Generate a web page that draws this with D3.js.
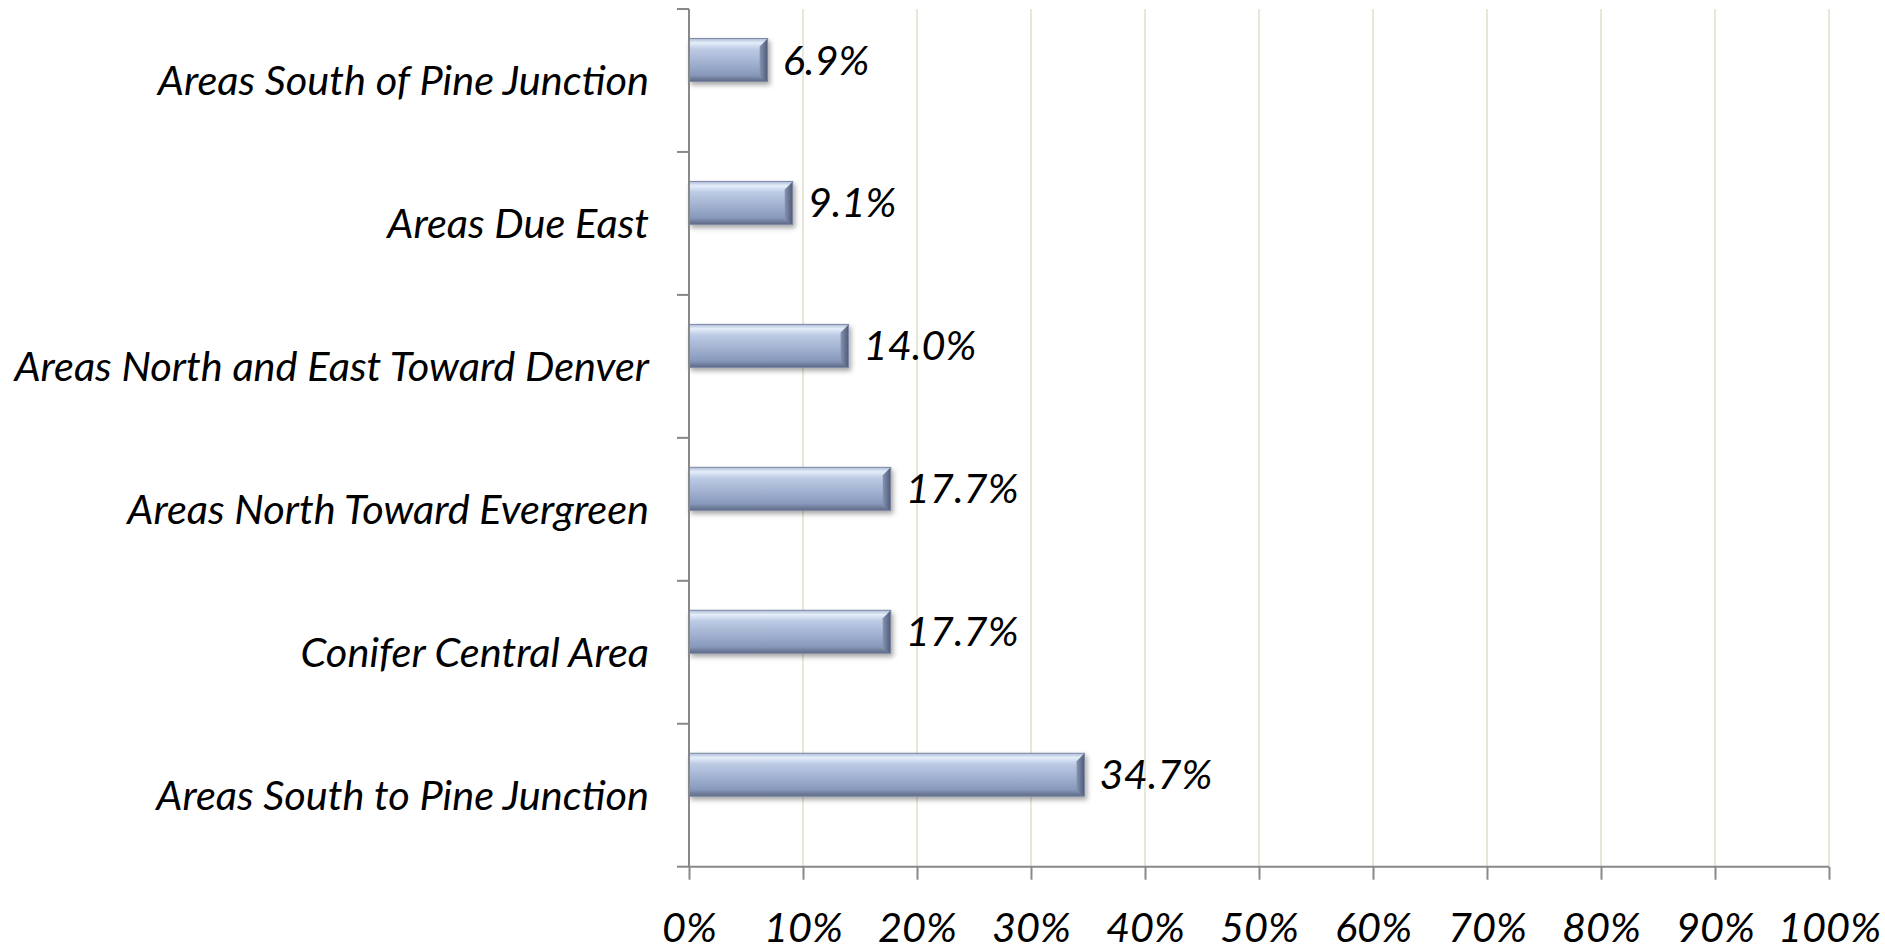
<!DOCTYPE html>
<html lang="en">
<head>
    <meta charset="UTF-8">
    <title>Areas</title>
    <script src="https://d3js.org/d3.v7.min.js"></script>
</head>
<body>
<style>
    body {
        margin: 0;
        background: #fff;
    }
    text {
        font-family: Lato, "Open Sans", sans-serif;
        font-style: italic;
        fill: #000;
    }
</style>
<script>
    var categories = [
        "Areas South of Pine Junction",
        "Areas Due East",
        "Areas North and East Toward Denver",
        "Areas North Toward Evergreen",
        "Conifer Central Area",
        "Areas South to Pine Junction"
    ];
    var values = [6.9, 9.1, 14.0, 17.7, 17.7, 34.7];
    var tickValues = [0, 10, 20, 30, 40, 50, 60, 70, 80, 90, 100];

    var margin = {top: 9, right: 56, bottom: 85, left: 689},
        width = 1885 - margin.left - margin.right,
        height = 952 - margin.top - margin.bottom - 0.3,
        fontSize = 41.5;

    var svg = d3.select("body")
        .append("svg")
        .attr("width", 1885)
        .attr("height", 952);

    var defs = svg.append("defs");

    var grad = defs.append("linearGradient")
        .attr("id", "barFill")
        .attr("x1", 0).attr("y1", 0).attr("x2", 0).attr("y2", 1);
    grad.append("stop").attr("offset", "0%").attr("stop-color", "#aebbd6");
    grad.append("stop").attr("offset", "10%").attr("stop-color", "#e4eefa");
    grad.append("stop").attr("offset", "25%").attr("stop-color", "#bccae4");
    grad.append("stop").attr("offset", "60%").attr("stop-color", "#9eaecd");
    grad.append("stop").attr("offset", "85%").attr("stop-color", "#8898bb");
    grad.append("stop").attr("offset", "100%").attr("stop-color", "#5c6884");

    var edge = defs.append("linearGradient")
        .attr("id", "barEdge")
        .attr("x1", 0).attr("y1", 0).attr("x2", 1).attr("y2", 0);
    edge.append("stop").attr("offset", "0%").attr("stop-color", "#8593b3");
    edge.append("stop").attr("offset", "100%").attr("stop-color", "#4f5a74");

    var shadow = defs.append("filter")
        .attr("id", "shadow")
        .attr("x", "-5%").attr("y", "-20%")
        .attr("width", "120%").attr("height", "160%");
    shadow.append("feDropShadow")
        .attr("dx", 2).attr("dy", 3)
        .attr("stdDeviation", 2.5)
        .attr("flood-color", "#000")
        .attr("flood-opacity", 0.35);

    var g = svg.append("g")
        .attr("transform", "translate(" + margin.left + "," + margin.top + ")");

    var x = d3.scaleLinear()
        .domain([0, 100])
        .range([0, width]);

    var y = d3.scaleBand()
        .domain(categories)
        .range([0, height]);

    // gridlines
    g.selectAll(".grid")
        .data(tickValues.slice(1))
        .enter().append("line")
        .attr("class", "grid")
        .attr("x1", function (d) { return x(d); })
        .attr("x2", function (d) { return x(d); })
        .attr("y1", 0)
        .attr("y2", height)
        .style("stroke", "#e9e7da")
        .style("stroke-width", 2);

    // bars
    var barH = 43, barOff = 29.5, bevel = 8;
    var bars = g.selectAll(".bar")
        .data(values)
        .enter().append("g")
        .attr("class", "bar")
        .attr("filter", "url(#shadow)");

    bars.append("rect")
        .attr("x", 0)
        .attr("y", function (d, i) { return y(categories[i]) + barOff; })
        .attr("width", function (d) { return x(d); })
        .attr("height", barH)
        .style("fill", "url(#barFill)");

    bars.append("path")
        .attr("d", function (d, i) {
            var x1 = x(d), y0 = y(categories[i]) + barOff;
            return "M" + (x1 - bevel) + "," + (y0 + bevel) +
                "L" + x1 + "," + y0 +
                "L" + x1 + "," + (y0 + barH) +
                "L" + (x1 - bevel) + "," + (y0 + barH - 4) + "Z";
        })
        .style("fill", "url(#barEdge)");

    bars.append("rect")
        .attr("x", 0)
        .attr("y", function (d, i) { return y(categories[i]) + barOff; })
        .attr("width", function (d) { return x(d); })
        .attr("height", barH)
        .style("fill", "none")
        .style("stroke", "#7d89a6")
        .style("stroke-width", 1);

    // value labels
    g.selectAll(".value")
        .data(values)
        .enter().append("text")
        .attr("class", "value")
        .attr("x", function (d) { return x(d) + 15; })
        .attr("y", function (d, i) { return y(categories[i]) + barOff + barH / 2; })
        .attr("dy", "0.35em")
        .style("font-size", fontSize + "px")
        .text(function (d) { return d.toFixed(1) + "%"; });

    // x axis
    var xAxis = g.append("g")
        .attr("transform", "translate(0," + height + ")")
        .call(d3.axisBottom(x)
            .tickValues(tickValues)
            .tickSize(13)
            .tickPadding(33)
            .tickFormat(function (d) { return d + "%"; }));
    xAxis.select(".domain").remove();
    xAxis.append("line")
        .attr("x1", 0).attr("x2", width)
        .style("stroke", "#888").style("stroke-width", 2);
    xAxis.selectAll(".tick line").style("stroke", "#888").style("stroke-width", 2);
    xAxis.selectAll(".tick text")
        .style("font-size", fontSize + "px")
        .style("font-family", "Lato, sans-serif")
        .style("font-style", "italic");

    // y axis with ticks at band edges
    var yAxis = g.append("g");
    yAxis.append("line")
        .attr("x1", 0).attr("x2", 0)
        .attr("y1", 0).attr("y2", height)
        .style("stroke", "#888").style("stroke-width", 2);
    yAxis.selectAll(".edge")
        .data(categories.map(function (c) { return y(c); }).concat([height]))
        .enter().append("line")
        .attr("x1", -12).attr("x2", 0)
        .attr("y1", function (d) { return d; })
        .attr("y2", function (d) { return d; })
        .style("stroke", "#888").style("stroke-width", 2);
    yAxis.selectAll(".cat")
        .data(categories)
        .enter().append("text")
        .attr("class", "cat")
        .attr("x", -40)
        .attr("y", function (d) { return y(d) + y.bandwidth() / 2; })
        .attr("dy", "0.35em")
        .attr("text-anchor", "end")
        .style("font-size", fontSize + "px")
        .text(function (d) { return d; });
</script>
</body>
</html>
